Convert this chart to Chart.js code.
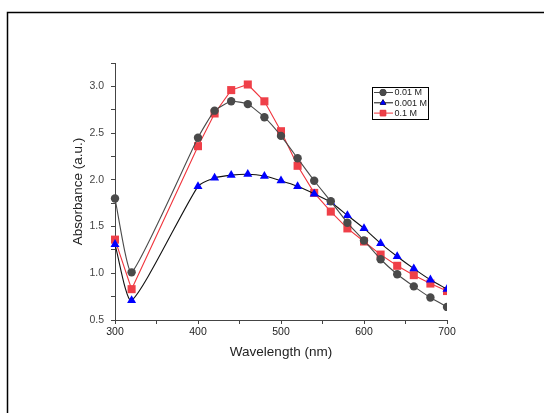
<!DOCTYPE html>
<html>
<head>
<meta charset="utf-8">
<script src="https://cdn.jsdelivr.net/npm/chart.js@4.4.0/dist/chart.umd.min.js"></script>
<style>
  html, body { margin: 0; padding: 0; background: #fff; }
  canvas { display: block; }
</style>
</head>
<body>
<canvas id="myChart" width="545" height="413"></canvas>
<script>
const wavelengths = [300, 320, 400, 420, 440, 460, 480, 500, 520, 540, 560, 580, 600, 620, 640, 660, 680, 700];

const abs001 = [1.80, 1.01, 2.45, 2.74, 2.84, 2.81, 2.67, 2.47, 2.23, 1.99, 1.77, 1.54, 1.35, 1.15, 0.99, 0.86, 0.74, 0.64];
const abs0001 = [1.31, 0.71, 1.93, 2.02, 2.05, 2.06, 2.04, 1.99, 1.93, 1.85, 1.76, 1.62, 1.48, 1.32, 1.18, 1.05, 0.93, 0.83];
const abs01 = [1.36, 0.83, 2.36, 2.71, 2.96, 3.02, 2.84, 2.52, 2.15, 1.86, 1.66, 1.48, 1.34, 1.20, 1.08, 0.98, 0.89, 0.81];

const seriesNames = ['0.01 M', '0.001 M', '0.1 M'];
const xTicks = [300, 400, 500, 600, 700];
const yTicks = [0.5, 1.0, 1.5, 2.0, 2.5, 3.0];

const ctx = document.getElementById('myChart').getContext('2d');

function toPoints(ys) {
    return wavelengths.map((x, i) => ({ x: x, y: ys[i] }));
}

// legend box drawn inside the plot, like the original
const boxLegend = {
    id: 'boxLegend',
    afterDraw(chart) {
        const c = chart.ctx;
        c.save();
        c.strokeStyle = '#000';
        c.lineWidth = 1;
        c.strokeRect(372.5, 87.5, 56, 32);
        chart.data.datasets.forEach((ds, i) => {
            const y = 92.5 + i * 10.3;
            c.strokeStyle = ds.borderColor;
            c.lineWidth = 1;
            c.beginPath();
            c.moveTo(374, y);
            c.lineTo(393, y);
            c.stroke();
            Chart.helpers.drawPoint(c, {
                pointStyle: ds.pointStyle,
                radius: ds.pointStyle === 'rect' ? 4 : 3.2,
                rotation: 0,
                borderWidth: 1
            }, 383, y);
            c.fillStyle = ds.pointBackgroundColor;
            c.strokeStyle = ds.pointBorderColor;
            c.fill();
            c.fillStyle = '#222';
            c.font = '9px "Liberation Sans", Arial, sans-serif';
            c.textBaseline = 'middle';
            c.fillText(ds.label, 394.5, y + 0.5);
        });
        c.restore();
    },
    beforeDraw(chart) {
        // page frame
        const c = chart.ctx;
        c.save();
        c.strokeStyle = '#000';
        c.lineWidth = 1.5;
        c.beginPath();
        c.moveTo(7.5, 413);
        c.lineTo(7.5, 12.5);
        c.lineTo(544, 12.5);
        c.stroke();
        c.restore();
    }
};

const data = {
    datasets: [{
        label: seriesNames[0],
        data: toPoints(abs001),
        borderColor: '#4a4a4a',
        backgroundColor: '#4a4a4a',
        pointBackgroundColor: '#4a4a4a',
        pointBorderColor: '#4a4a4a',
        pointStyle: 'circle',
        pointRadius: 4.2,
        pointBorderWidth: 0,
        borderWidth: 1.1,
        tension: 0.15,
        clip: { left: 10, top: 10, right: 0, bottom: 10 }
    }, {
        label: seriesNames[1],
        data: toPoints(abs0001),
        borderColor: '#111111',
        backgroundColor: '#0000ff',
        pointBackgroundColor: '#0000ff',
        pointBorderColor: '#0000ff',
        pointStyle: 'triangle',
        pointRadius: 5.2,
        pointBorderWidth: 0,
        borderWidth: 1.1,
        tension: 0.2,
        clip: { left: 10, top: 10, right: 0, bottom: 10 }
    }, {
        label: seriesNames[2],
        data: toPoints(abs01),
        borderColor: '#f0343c',
        backgroundColor: '#ef3f48',
        pointBackgroundColor: '#ef3f48',
        pointBorderColor: '#ef3f48',
        pointStyle: 'rect',
        pointRadius: 5.7,
        pointBorderWidth: 0,
        borderWidth: 1.1,
        tension: 0,
        clip: { left: 10, top: 10, right: 0, bottom: 10 }
    }]
};

const config = {
    type: 'line',
    data: data,
    options: {
        responsive: false,
        animation: false,
        layout: {
            padding: { left: 70, top: 63, right: 98, bottom: 53 }
        },
        scales: {
            x: {
                type: 'linear',
                min: 300,
                max: 700,
                afterFit: function(scale) { scale.height = 40; },
                ticks: {
                    stepSize: 50,
                    padding: 2,
                    color: '#222',
                    font: { family: '"Liberation Sans", Arial, sans-serif', size: 10.5 },
                    callback: function(value) {
                        return xTicks.includes(value) ? String(value) : '';
                    }
                },
                grid: {
                    drawOnChartArea: false,
                    drawTicks: true,
                    tickLength: 4,
                    color: '#444'
                },
                border: { display: true, color: '#444', width: 1 },
                title: {
                    display: true,
                    text: 'Wavelength (nm)',
                    color: '#222',
                    padding: 0,
                    font: { family: '"Liberation Sans", Arial, sans-serif', size: 13.5 }
                }
            },
            y: {
                min: 0.5,
                max: 3.25,
                afterFit: function(scale) { scale.width = 45; },
                ticks: {
                    stepSize: 0.25,
                    padding: 7,
                    color: '#444',
                    font: { family: '"Liberation Sans", Arial, sans-serif', size: 10.5 },
                    callback: function(value) {
                        const hit = yTicks.find(t => Math.abs(t - value) < 1e-6);
                        return hit !== undefined ? hit.toFixed(1) : '';
                    }
                },
                grid: {
                    drawOnChartArea: false,
                    drawTicks: true,
                    tickLength: 4,
                    color: '#444'
                },
                border: { display: true, color: '#444', width: 1 },
                title: {
                    display: true,
                    text: 'Absorbance (a.u.)',
                    color: '#222',
                    padding: 0,
                    font: { family: '"Liberation Sans", Arial, sans-serif', size: 13.5 }
                }
            }
        },
        plugins: {
            legend: { display: false },
            tooltip: { enabled: false }
        }
    },
    plugins: [boxLegend]
};

const myChart = new Chart(ctx, config);
</script>
</body>
</html>
